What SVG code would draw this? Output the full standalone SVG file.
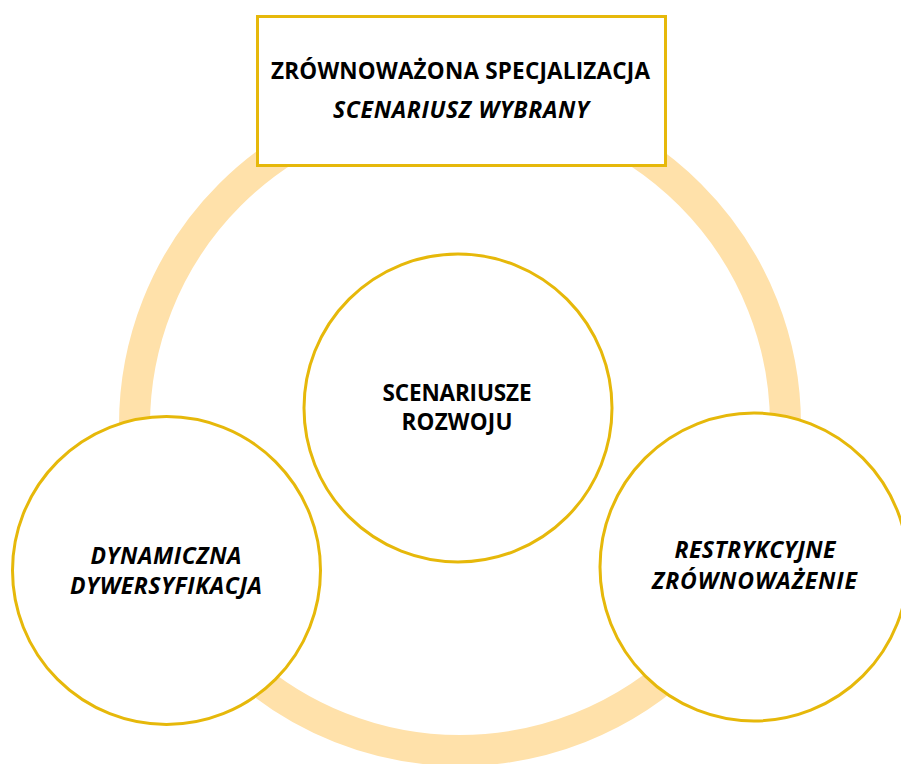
<svg xmlns="http://www.w3.org/2000/svg" width="901" height="764" viewBox="0 0 901 764">
<style>
.node{fill:#FFFFFF;stroke:#E6B80A;stroke-width:3}
.t{font-family:"Open Sans","Liberation Sans",sans-serif;font-weight:bold;font-size:22.5px;fill:#000000;text-anchor:middle}
.i{font-style:italic;font-size:23px}
</style>
<rect width="901" height="764" fill="#FFFFFF"/>
<g id="connectors">
<circle cx="460" cy="425" r="325.5" fill="none" stroke="#FFE1AA" stroke-width="31"/>
</g>
<g id="box-zrownowazona">
<rect class="node" x="257.5" y="16.5" width="408" height="149"/>
<text class="t" x="460.5" y="79" textLength="379">ZRÓWNOWAŻONA SPECJALIZACJA</text>
<text class="t i" x="461" y="118" textLength="256">SCENARIUSZ WYBRANY</text>
</g>
<g id="node-scenariusze">
<circle class="node" cx="458" cy="408" r="154"/>
<text class="t" x="457" y="401" textLength="149">SCENARIUSZE</text>
<text class="t" x="457" y="430" textLength="111">ROZWOJU</text>
</g>
<g id="node-dynamiczna">
<circle class="node" cx="166.5" cy="570.5" r="154"/>
<text class="t i" x="166" y="564" textLength="151">DYNAMICZNA</text>
<text class="t i" x="166" y="594" textLength="192">DYWERSYFIKACJA</text>
</g>
<g id="node-restrykcyjne">
<circle class="node" cx="754" cy="567" r="154"/>
<text class="t i" x="755" y="558" textLength="161">RESTRYKCYJNE</text>
<text class="t i" x="754.5" y="589" textLength="205">ZRÓWNOWAŻENIE</text>
</g>
</svg>
